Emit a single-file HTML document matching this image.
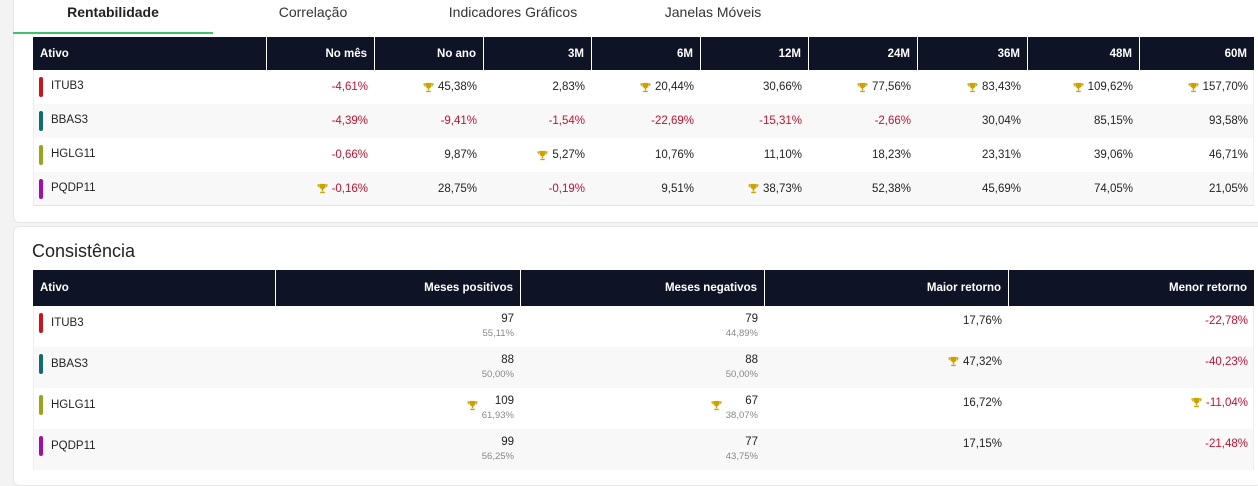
<!DOCTYPE html>
<html><head><meta charset="utf-8">
<style>
*{box-sizing:border-box;margin:0;padding:0}
body{width:1258px;height:478px;overflow:hidden;background:#f3f3f3;font-family:"Liberation Sans",sans-serif;color:#222;position:relative}
.abs{position:absolute}
.card{position:absolute;background:#fff;border:1px solid #e6e6e6;border-radius:6px}
.tab{position:absolute;top:4px;font-size:14px;color:#333;text-align:center;width:200px}
.hdr{position:absolute;background:#0f1326;color:#fff;font-size:11.5px;font-weight:bold}
.hc{position:absolute;top:0;height:100%;display:flex;align-items:center;justify-content:flex-end;padding-right:7px;border-left:1px solid #fff}
.row{position:absolute;font-size:11.5px}
.cell{position:absolute;top:0;height:100%;display:flex;align-items:center;justify-content:flex-end;padding-right:7px}
.neg{color:#c4122f}
.bar{position:absolute;left:5px;width:4px;border-radius:2px}
.tr{display:inline-block;width:11px;height:11px;margin-right:4px;vertical-align:-1px}
</style></head><body>
<div class="card" style="left:13px;top:-6px;width:1250px;height:229px"></div>
<div class="card" style="left:13px;top:226px;width:1250px;height:260px"></div>
<div class="tab" style="left:13px;font-weight:bold;color:#222">Rentabilidade</div>
<div class="tab" style="left:213px">Correlação</div>
<div class="tab" style="left:413px">Indicadores Gráficos</div>
<div class="tab" style="left:613px">Janelas Móveis</div>
<div class="abs" style="left:13px;top:32px;width:200px;height:2px;background:#3fc26a"></div>
<div class="abs" style="left:32px;top:241px;font-size:18px;color:#222">Consistência</div>
<div id="root"></div>
<script>
const assets=["ITUB3","BBAS3","HGLG11","PQDP11"];
const assetColors=["#d0121b","#0e6e6e","#9aa31a","#a30ea8"];
const retHeaders=["No mês","No ano","3M","6M","12M","24M","36M","48M","60M"];
const retValues=[
["-4,61%","45,38%","2,83%","20,44%","30,66%","77,56%","83,43%","109,62%","157,70%"],
["-4,39%","-9,41%","-1,54%","-22,69%","-15,31%","-2,66%","30,04%","85,15%","93,58%"],
["-0,66%","9,87%","5,27%","10,76%","11,10%","18,23%","23,31%","39,06%","46,71%"],
["-0,16%","28,75%","-0,19%","9,51%","38,73%","52,38%","45,69%","74,05%","21,05%"]];
const retTrophy=[[0,1,0,1,0,1,1,1,1],[0,0,0,0,0,0,0,0,0],[0,0,1,0,0,0,0,0,0],[1,0,0,0,1,0,0,0,0]];
const conHeaders=["Meses positivos","Meses negativos","Maior retorno","Menor retorno"];
const posMonths=[97,88,109,99], posPct=["55,11%","50,00%","61,93%","56,25%"];
const negMonths=[79,88,67,77], negPct=["44,89%","50,00%","38,07%","43,75%"];
const maxRet=["17,76%","47,32%","16,72%","17,15%"], minRet=["-22,78%","-40,23%","-11,04%","-21,48%"];
const conTrophy=[[0,0,0,0],[0,0,1,0],[1,1,0,1],[0,0,0,0]];
const trophy='<svg class="tr" viewBox="0 0 12 12"><path d="M3 1h6v3a3 3 0 0 1-6 0z M1 1.5h2v1.5H1z M9 1.5h2v1.5H9z M5.2 6.5h1.6v2.5H5.2z M3.5 9.5h5v1.5h-5z" fill="#c9a400"/><path d="M1 1.5v1a2 2 0 0 0 2 2 M11 1.5v1a2 2 0 0 1-2 2" stroke="#c9a400" fill="none"/></svg>';
const root=document.getElementById('root');
function mk(cls,style,html){const d=document.createElement('div');d.className=cls;d.style.cssText=style;if(html!==undefined)d.innerHTML=html;root.appendChild(d);return d;}
// returns table
const rx=[33,266,374,483,591,700,808,917,1027,1139,1254];
let h=mk('hdr','left:33px;top:37px;width:1221px;height:33px');


let a=document.createElement('div');a.className='hc';a.style.cssText='left:0;width:233px;justify-content:flex-start;padding-left:7px;border-left:none';a.textContent='Ativo';h.appendChild(a);
retHeaders.forEach((t,i)=>{const c=document.createElement('div');c.className='hc';c.style.left=(rx[i+1]-33)+'px';c.style.width=(rx[i+2]-rx[i+1])+'px';c.textContent=t;

h.appendChild(c);});
const rowsTop=70,rh=34;
assets.forEach((as,r)=>{
 const row=mk('row',`left:33px;top:${rowsTop+r*rh}px;width:1221px;height:${rh}px;background:${r%2?'#f8f8f8':'#fff'};border-bottom:${r==3?'1px solid #e3e3e3':'none'};border-left:1px solid #eee;border-right:1px solid #eee`);
 
 
 row.innerHTML=`<div class="bar" style="top:7px;height:20px;background:${assetColors[r]}"></div><div class="abs" style="left:17px;top:10px">${as}</div>`;
 retValues[r].forEach((v,i)=>{const c=document.createElement('div');c.className='cell'+(v[0]=='-'?' neg':'');c.style.left=(rx[i+1]-33)+'px';c.style.width=(rx[i+2]-rx[i+1])+'px';c.innerHTML=(retTrophy[r][i]?trophy:'')+v;row.appendChild(c);});
});
// consistency table
const cx=[33,275,520,764,1008,1254];
h=mk('hdr','left:33px;top:270px;width:1221px;height:36px');


a=document.createElement('div');a.className='hc';a.style.cssText='left:0;width:242px;justify-content:flex-start;padding-left:7px;border-left:none';a.textContent='Ativo';h.appendChild(a);
conHeaders.forEach((t,i)=>{const c=document.createElement('div');c.className='hc';c.style.left=(cx[i+1]-33)+'px';c.style.width=(cx[i+2]-cx[i+1])+'px';c.textContent=t;

h.appendChild(c);});
const ct=306,crh=41;
assets.forEach((as,r)=>{
 const row=mk('row',`left:33px;top:${ct+r*crh}px;width:1221px;height:${crh}px;background:${r%2?'#f8f8f8':'#fff'};border-left:1px solid #eee;border-right:1px solid #eee`);
 
 
 row.innerHTML=`<div class="bar" style="top:7px;height:20px;background:${assetColors[r]}"></div><div class="abs" style="left:17px;top:11px">${as}</div>`;
 const vals=[
  `<div style="text-align:right;line-height:14px">${posMonths[r]}<br><span style="font-size:9.5px;color:#888">${posPct[r]}</span></div>`,
  `<div style="text-align:right;line-height:14px">${negMonths[r]}<br><span style="font-size:9.5px;color:#888">${negPct[r]}</span></div>`,
  maxRet[r], `<span class="neg">${minRet[r]}</span>`];
 vals.forEach((v,i)=>{const c=document.createElement('div');c.className='cell';c.style.left=(cx[i+1]-33)+'px';c.style.width=(cx[i+2]-cx[i+1])+'px';c.style.alignItems='flex-start';c.style.paddingTop=(i<2?'6px':'9px');
  c.innerHTML=(conTrophy[r][i]?'<div style="padding-top:'+(i<2?'6px':'0')+'">'+trophy+'</div>':'')+v;row.appendChild(c);});
});
</script>
</body></html>
